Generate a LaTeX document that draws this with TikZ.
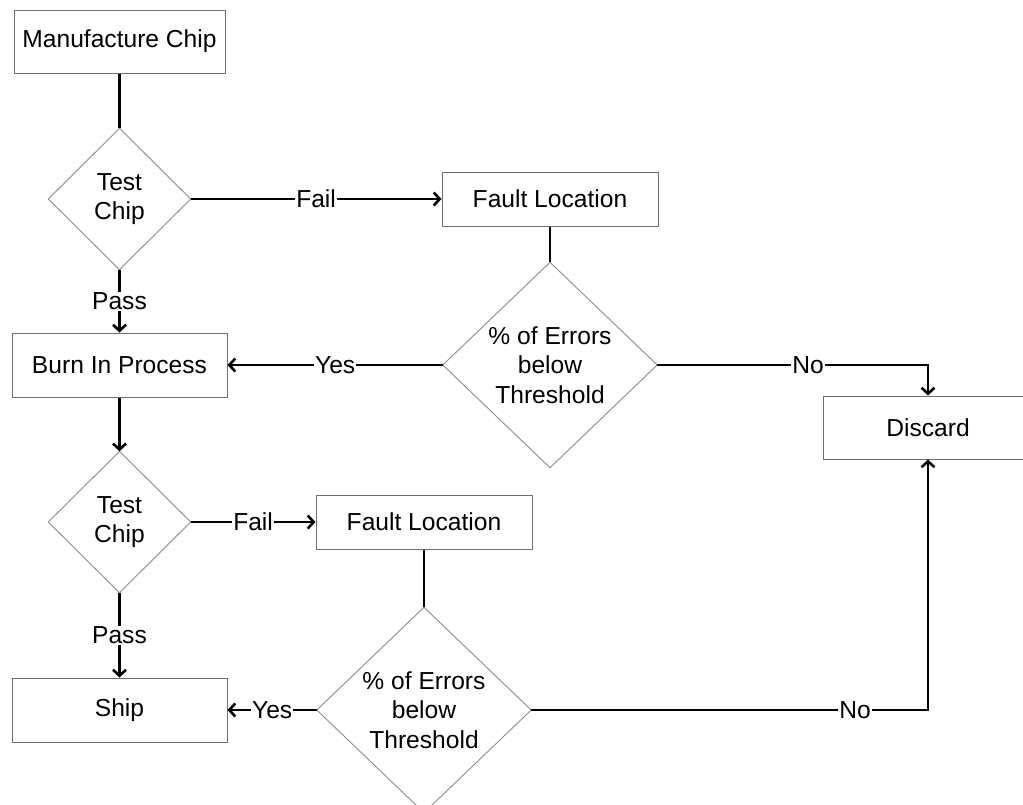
\documentclass[tikz,border=0pt]{standalone}
\usepackage{fontspec}
\setmainfont{Liberation Sans}
\usetikzlibrary{arrows.meta}
\definecolor{boxgray}{HTML}{6E6E6E}
\definecolor{diagray}{HTML}{8C8C8C}
\begin{document}
\begin{tikzpicture}[x=1pt,y=-1pt,
  every node/.style={font=\fontsize{24.6}{29.5}\selectfont, text=black},
  process/.style={rectangle, draw=boxgray, line width=1pt, fill=white, inner sep=0pt},
  decision/.style={rectangle, inner sep=0pt, align=center},
  small/.style={minimum width=142pt, minimum height=141pt},
  large/.style={minimum width=214pt, minimum height=205pt},
  diaedge/.style={draw=diagray, line width=0.9pt},
  flow/.style={line width=2.7pt, draw=black},
  arr/.style={flow, -{Straight Barb[length=6pt,width=13pt,line width=2.6pt]}},
  lbl/.style={fill=white, inner sep=1pt}]

% page
\clip (0,0) rectangle (1023,804);
\fill[white] (0,0) rectangle (1023,804);

% process boxes
\node[process, minimum width=211pt, minimum height=63pt] (mc) at (119.5,41.5) {Manufacture Chip};
\node[process, minimum width=216pt, minimum height=54pt] (fl1) at (550,199) {Fault Location};
\node[process, minimum width=215pt, minimum height=64pt] (burn) at (119.5,365) {Burn In Process};
\node[process, minimum width=210pt, minimum height=63pt] (disc) at (928,427.5) {Discard};
\node[process, minimum width=216pt, minimum height=54pt] (fl2) at (424,522) {Fault Location};
\node[process, minimum width=215pt, minimum height=64pt] (ship) at (119.5,710) {Ship};

% decisions
\node[decision, small] (t1) at (119.5,199) {Test\\Chip};
\node[decision, large] (d1) at (550,365) {\% of Errors\\below\\Threshold};
\node[decision, small] (t2) at (119.5,522) {Test\\Chip};
\node[decision, large] (d2) at (424,710) {\% of Errors\\below\\Threshold};

\foreach \n in {t1,t2,d1,d2}
  \draw[diaedge] (\n.north) -- (\n.east) -- (\n.south) -- (\n.west) -- cycle;

% connectors
\draw[flow] (mc) -- (t1);
\draw[arr] (t1.south) -- node[lbl]{Pass} (burn.north);
\draw[arr] (t1.east) -- node[lbl]{Fail} (fl1.west);
\draw[flow] (fl1) -- (d1);
\draw[arr] (d1.west) -- node[lbl]{Yes} (burn.east);
\draw[arr] (d1.east) -- node[lbl, pos=0.557]{No} (d1.east -| disc.north) -- (disc.north);

\draw[arr] (burn) -- (t2);
\draw[arr] (t2.east) -- node[lbl]{Fail} (fl2.west);
\draw[flow] (fl2) -- (d2);
\draw[arr] (t2.south) -- node[lbl]{Pass} (ship.north);
\draw[arr] (d2.west) -- node[lbl]{Yes} (ship.east);
\draw[arr] (d2.east) -- node[lbl, pos=0.816]{No} (d2.east -| disc.south) -- (disc.south);
\end{tikzpicture}
\end{document}
